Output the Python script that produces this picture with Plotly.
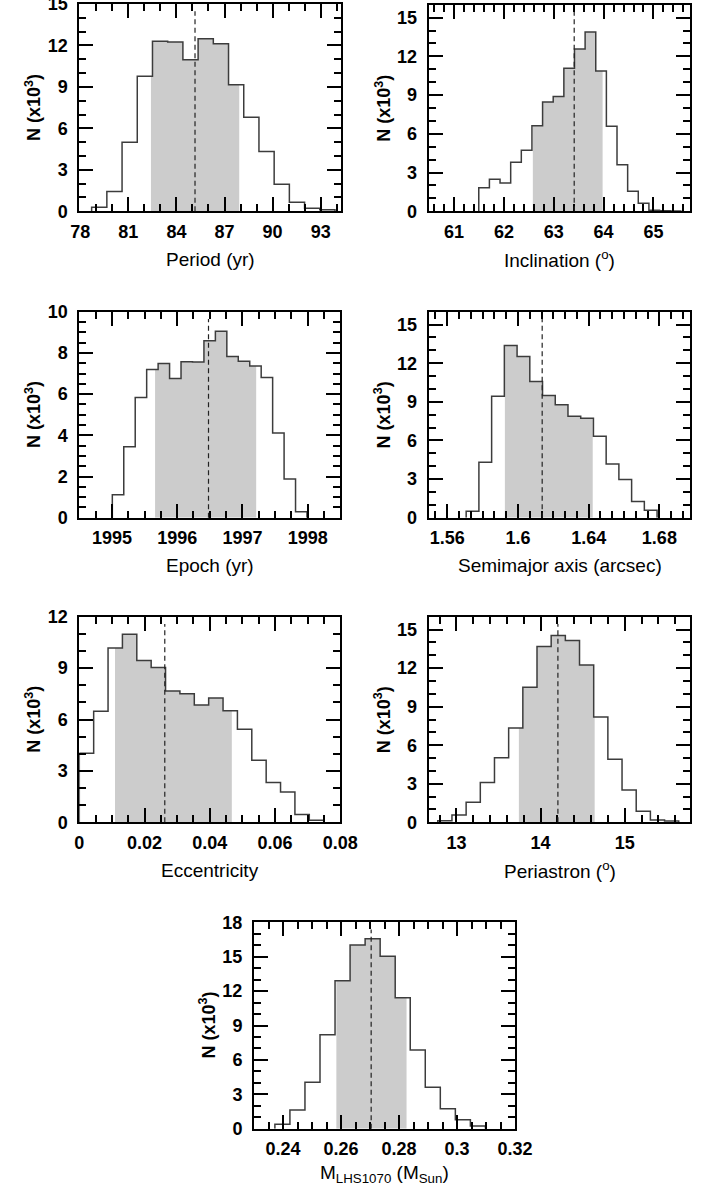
import plotly.graph_objects as go

W, H = 718, 1193

# ---------------- data (N in units of 10^3) ----------------
period_bins = [78.71, 0.949]           # first edge, bin width
period_counts = [0.3, 1.43, 5.0, 9.77, 12.3, 12.25, 10.96, 12.48, 12.12, 9.15,
                 6.8, 4.33, 1.96, 0.65, 0.22, 0.12]
period_interval = [82.41, 87.92]
period_median = 85.16

incl_bins = [61.495, 0.2134]
incl_counts = [1.83, 2.48, 2.19, 3.79, 4.72, 6.63, 8.46, 8.9, 11.07, 12.56,
               13.88, 10.86, 6.58, 3.61, 1.55, 0.62, 0.08, 0.05, 0.03]
incl_interval = [62.58, 63.98]
incl_median = 63.41

epoch_bins = [1995.006, 0.1755]
epoch_counts = [1.12, 3.45, 5.83, 7.2, 7.49, 6.76, 7.57, 7.56, 8.59, 9.05,
                7.82, 7.6, 7.36, 6.81, 4.11, 1.88, 0.29]
epoch_interval = [1995.661, 1997.211]
epoch_median = 1996.48

sma_bins = [1.5707, 0.0072]
sma_counts = [0.51, 4.3, 9.44, 13.38, 12.53, 10.57, 9.49, 8.77, 7.87, 7.72,
              6.33, 4.17, 2.96, 1.26, 0.57]
sma_interval = [1.5926, 1.6423]
sma_median = 1.6137

ecc_bins = [0.0, 0.004406]
ecc_counts = [4.03, 6.48, 10.17, 10.97, 9.45, 9.04, 7.66, 7.51, 6.85, 7.25,
              6.51, 5.43, 3.62, 2.33, 1.77, 0.45, 0.12]
ecc_interval = [0.01095, 0.04675]
ecc_median = 0.0262

peri_bins = [12.778, 0.1685]
peri_counts = [0.13, 0.57, 1.56, 3.09, 5.03, 7.34, 10.51, 13.68, 14.53, 14.14,
               12.25, 8.2, 4.9, 2.52, 0.86, 0.18, 0.1]
peri_interval = [13.742, 14.643]
peri_median = 14.206

mass_bins = [0.2372, 0.005186]
mass_counts = [0.38, 1.63, 4.04, 8.2, 12.91, 16.02, 16.57, 15.03, 11.43, 6.86,
               3.61, 1.74, 0.79, 0.23]
mass_interval = [0.2584, 0.2826]
mass_median = 0.2704

x_titles = ["Period (yr)", "Inclination (<sup>o</sup>)", "Epoch (yr)",
            "Semimajor axis (arcsec)", "Eccentricity", "Periastron (<sup>o</sup>)",
            "M<sub>LHS1070</sub> (M<sub>Sun</sub>)"]
y_title = "N (x10<sup>3</sup>)"

# ---------------- layout / style ----------------
panels = [
    dict(bins=period_bins, counts=period_counts, iv=period_interval, med=period_median,
         xr=[77.94, 94.25], yr=[0, 15], xd=3, xt0=78, xm=1, yd=3, ym=1,
         px=[79.3, 340.7], py=[4.0, 211.3]),
    dict(bins=incl_bins, counts=incl_counts, iv=incl_interval, med=incl_median,
         xr=[60.49, 65.74], yr=[0, 16], xd=1, xt0=61, xm=0.2, yd=3, ym=1,
         px=[428.7, 690.3], py=[4.7, 211.3]),
    dict(bins=epoch_bins, counts=epoch_counts, iv=epoch_interval, med=epoch_median,
         xr=[1994.5, 1998.5], yr=[0, 10], xd=1, xt0=1995, xm=0.25, yd=2, ym=0.5,
         px=[79.3, 340.3], py=[311.7, 517.7]),
    dict(bins=sma_bins, counts=sma_counts, iv=sma_interval, med=sma_median,
         xr=[1.5495, 1.6975], yr=[0, 16], xd=0.04, xt0=1.56, xm=0.04 / 6, yd=3, ym=1,
         px=[428.7, 690.3], py=[311.7, 517.7]),
    dict(bins=ecc_bins, counts=ecc_counts, iv=ecc_interval, med=ecc_median,
         xr=[0, 0.08], yr=[0, 12], xd=0.02, xt0=0, xm=0.005, yd=3, ym=1,
         px=[79.3, 340.3], py=[616.7, 822.3]),
    dict(bins=peri_bins, counts=peri_counts, iv=peri_interval, med=peri_median,
         xr=[12.67, 15.78], yr=[0, 16], xd=1, xt0=13, xm=0.2, yd=3, ym=1,
         px=[428.7, 690.3], py=[616.7, 822.3]),
    dict(bins=mass_bins, counts=mass_counts, iv=mass_interval, med=mass_median,
         xr=[0.23, 0.32], yr=[0, 18], xd=0.02, xt0=0.24, xm=0.005, yd=3, ym=1,
         px=[254.0, 515.0], py=[922.3, 1128.7]),
]

FONT = "Liberation Sans"
LINE_COL = "#3c3c3c"
SHADE_COL = "#cccccc"


def edges_of(bins, counts):
    return [bins[0] + i * bins[1] for i in range(len(counts) + 1)]


def step_xy(bins, counts):
    e = edges_of(bins, counts)
    xs, ys = [e[0]], [0]
    for i, c in enumerate(counts):
        xs += [e[i], e[i + 1]]
        ys += [c, c]
    xs.append(e[-1]); ys.append(0)
    return xs, ys


def shade_xy(bins, counts, lo, hi):
    e = edges_of(bins, counts)
    xs, ys = [lo], [0]
    for i, c in enumerate(counts):
        a, b = max(e[i], lo), min(e[i + 1], hi)
        if a < b:
            xs += [a, b]
            ys += [c, c]
    xs.append(hi); ys.append(0)
    return xs, ys


fig = go.Figure()
annotations = []
shapes = []
layout = {}

for k, p in enumerate(panels):
    n = "" if k == 0 else str(k + 1)
    xa, ya = "x" + n, "y" + n
    sx, sy = shade_xy(p["bins"], p["counts"], p["iv"][0], p["iv"][1])
    fig.add_trace(go.Scatter(x=sx, y=sy, mode="lines", fill="toself",
                             fillcolor=SHADE_COL, line=dict(width=0, color=SHADE_COL),
                             xaxis=xa, yaxis=ya, showlegend=False, hoverinfo="skip"))
    ox, oy = step_xy(p["bins"], p["counts"])
    fig.add_trace(go.Scatter(x=ox, y=oy, mode="lines",
                             line=dict(width=1.5, color=LINE_COL),
                             xaxis=xa, yaxis=ya, showlegend=False))
    shapes.append(dict(type="line", xref=xa, yref=ya + " domain",
                       x0=p["med"], x1=p["med"], y0=0, y1=0.965,
                       line=dict(color="#222222", width=1.2, dash="5px,3.5px")))

    common = dict(showline=True, linewidth=2, linecolor="black", mirror="ticks",
                  ticks="inside", ticklen=14, tickwidth=1.5, tickcolor="black",
                  showgrid=False, zeroline=False, automargin=False,
                  ticklabeloverflow="allow",
                  tickfont=dict(family=FONT, size=18, color="black", weight="bold"))
    x0, x1 = p["px"]
    y0, y1 = p["py"]
    layout["xaxis" + n] = dict(
        common, domain=[x0 / W, x1 / W], range=p["xr"], anchor=ya,
        tickmode="linear", tick0=p["xt0"], dtick=p["xd"], ticklabelstandoff=3,
        minor=dict(ticks="inside", ticklen=7, tickwidth=1.5, tickcolor="black",
                   tick0=p["xt0"], dtick=p["xm"], showgrid=False))
    layout["yaxis" + n] = dict(
        common, domain=[1 - y1 / H, 1 - y0 / H], range=p["yr"], anchor=xa,
        tickmode="linear", tick0=0, dtick=p["yd"], ticklabelstandoff=6,
        minor=dict(ticks="inside", ticklen=7, tickwidth=1.5, tickcolor="black",
                   tick0=0, dtick=p["ym"], showgrid=False))

    annotations.append(dict(
        text=x_titles[k], xref="paper", yref="paper",
        x=(x0 + x1) / 2 / W, y=1 - (y1 + (45 if k == 6 else 48)) / H,
        xanchor="center", yanchor="middle", showarrow=False,
        font=dict(family=FONT, size=19, color="black")))
    annotations.append(dict(
        text=y_title, xref="paper", yref="paper",
        x=(x0 - 46) / W, y=1 - (y0 + y1) / 2 / H, textangle=-90,
        xanchor="center", yanchor="middle", showarrow=False,
        font=dict(family=FONT, size=18, color="black", weight="bold")))

fig.update_layout(width=W, height=H,
                  margin=dict(l=0, r=0, t=0, b=0, autoexpand=False),
                  paper_bgcolor="white", plot_bgcolor="white",
                  annotations=annotations, shapes=shapes, **layout)

fig.write_html("out.html", config={"displayModeBar": False},
               post_script="document.body.style.margin='0';")
